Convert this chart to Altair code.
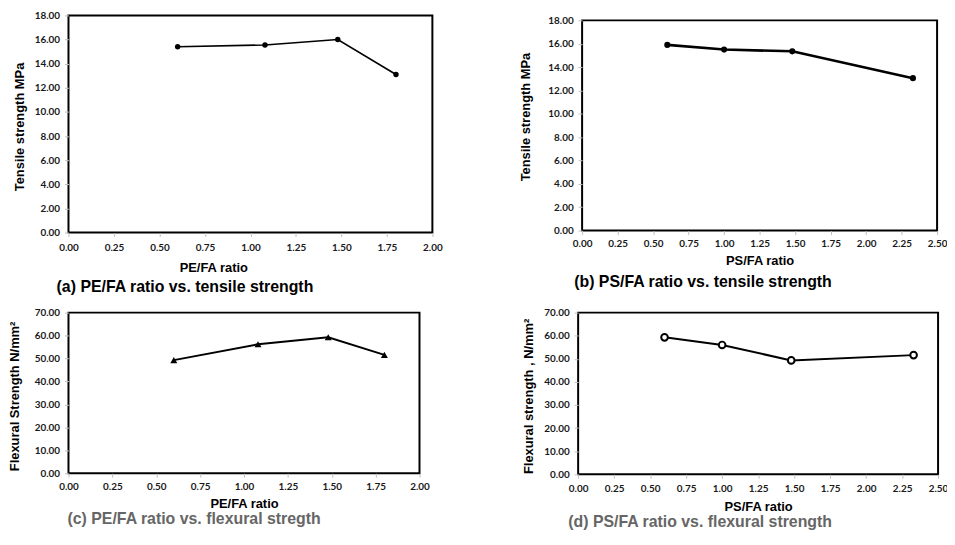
import altair as alt
import pandas as pd

# ---- data ----
pe_ratio = [0.60, 1.08, 1.48, 1.80]
pe_tensile = [15.40, 15.55, 16.00, 13.10]
pe_flexural = [49.3, 56.2, 59.3, 51.6]

ps_ratio = [0.60, 1.00, 1.48, 2.33]
ps_tensile = [15.90, 15.50, 15.35, 13.05]
ps_flexural = [59.3, 56.0, 49.3, 51.6]

x_ticks_pe = [0.0, 0.25, 0.5, 0.75, 1.0, 1.25, 1.5, 1.75, 2.0]
x_ticks_ps = [0.0, 0.25, 0.5, 0.75, 1.0, 1.25, 1.5, 1.75, 2.0, 2.25, 2.5]
y_ticks_tensile = [0, 2, 4, 6, 8, 10, 12, 14, 16, 18]
y_ticks_flexural = [0, 10, 20, 30, 40, 50, 60, 70]

captions = [
    "(a) PE/FA ratio vs. tensile strength",
    "(b) PS/FA ratio vs. tensile strength",
    "(c) PE/FA ratio vs. flexural stregth",
    "(d) PS/FA ratio vs. flexural strength",
]

LABEL_FONT = "Lato"
TITLE_FONT = "Liberation Sans"


def panel(xs, ys, xticks, yticks, xtitle, ytitle, w, h, cap, capcolor,
          capdx, capoffset, shape, filled, size, lw,
          xtX, xtY, ytX, ytY, xlp):
    df = pd.DataFrame({"x": xs, "y": ys})
    xax = alt.Axis(values=xticks, format=".2f", title=xtitle, grid=False,
                   domain=False, tickColor="#bfbfbf", tickSize=4,
                   labelPadding=xlp, labelFont=LABEL_FONT, labelFontSize=10,
                   labelFontWeight="bold", labelColor="#1a1a1a",
                   labelFlush=False, labelOverlap=False,
                   titleFont=TITLE_FONT, titleFontSize=13,
                   titleFontWeight="bold", titleColor="black",
                   titleX=xtX, titleY=xtY, titleBaseline="top",
                   titleAlign="center")
    yax = alt.Axis(values=yticks, format=".2f", title=ytitle, grid=False,
                   domain=False, tickColor="#bfbfbf", tickSize=4,
                   labelPadding=5, labelFont=LABEL_FONT, labelFontSize=10,
                   labelFontWeight="bold", labelColor="#1a1a1a",
                   labelFlush=False, labelOverlap=False,
                   titleFont=TITLE_FONT, titleFontSize=13,
                   titleFontWeight="bold", titleColor="black",
                   titleX=ytX, titleY=ytY, titleBaseline="alphabetic",
                   titleAlign="center", titleAngle=270)
    enc_x = alt.X("x:Q", axis=xax,
                  scale=alt.Scale(domain=[xticks[0], xticks[-1]], nice=False))
    enc_y = alt.Y("y:Q", axis=yax,
                  scale=alt.Scale(domain=[yticks[0], yticks[-1]], nice=False))
    base = alt.Chart(df).encode(x=enc_x, y=enc_y)
    line = base.mark_line(color="black", strokeWidth=lw)
    if filled:
        pts = base.mark_point(shape=shape, filled=True, color="black",
                              size=size, opacity=1)
    else:
        pts = base.mark_point(shape=shape, filled=False, color="black",
                              fill="white", size=size, strokeWidth=2,
                              opacity=1)
    return alt.layer(line, pts).properties(
        width=w, height=h,
        title=alt.TitleParams(text=cap, orient="bottom", anchor="start",
                              frame="group", dx=capdx, offset=capoffset,
                              font=TITLE_FONT, fontSize=16,
                              fontWeight="bold", color=capcolor),
    )


pa = panel(pe_ratio, pe_tensile, x_ticks_pe, y_ticks_tensile,
           "PE/FA ratio", "Tensile strength MPa", 367, 219,
           captions[0], "black", -12, 4.5, "circle", True, 30, 1.6,
           146, 29, -45, 112, 6)
pb = panel(ps_ratio, ps_tensile, x_ticks_ps, y_ticks_tensile,
           "PS/FA ratio", "Tensile strength MPa", 358, 212,
           captions[1], "black", -8, 6.5, "circle", True, 38, 2.6,
           179, 24, -53, 97, 4)
pc = panel(pe_ratio, pe_flexural, x_ticks_pe, y_ticks_flexural,
           "PE/FA ratio", "Flexural Strength N/mm²", 354, 162,
           captions[2], "#666666", -1, 0, "triangle-up", True, 50, 2,
           177, 25, -50, 84, 4)
pd_ = panel(ps_ratio, ps_flexural, x_ticks_ps, y_ticks_flexural,
            "PS/FA ratio", "Flexural strength , N/mm²", 363, 163,
            captions[3], "#666666", -10, 0, "circle", False, 45, 2,
            181.5, 27, -46, 84, 5)

row1 = alt.hconcat(pa, pb, spacing=76, center=True)
row2 = alt.hconcat(pc, pd_, spacing=92)

chart = alt.vconcat(row1, row2, spacing=11).properties(
    padding={"left": 0, "top": -1, "right": -2, "bottom": -2},
    background="white",
).configure_view(stroke="black", strokeWidth=2)

chart.save("out.html", embed_options={"renderer": "svg", "actions": False})
